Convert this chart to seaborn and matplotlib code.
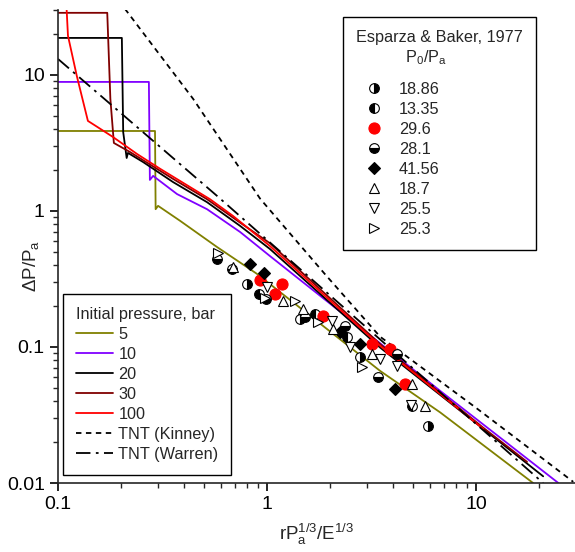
import matplotlib
matplotlib.use("Agg")
import matplotlib.pyplot as plt
import seaborn as sns
import pandas as pd
from matplotlib.ticker import LogLocator, FuncFormatter, NullFormatter

# ---------------- data ----------------
# calculated curves, initial pressure in bar
p5_x = [0.1, 0.291, 0.293, 0.301, 0.384, 0.576, 0.896, 3.47, 6.73, 18.7]
p5_y = [3.87, 3.87, 1.03, 1.09, 0.845, 0.543, 0.344, 0.0667, 0.033, 0.01]

p10_x = [0.1, 0.272, 0.275, 0.285, 0.371, 0.516, 0.743, 1.03, 6.73, 24.7]
p10_y = [8.88, 8.88, 1.69, 1.81, 1.33, 1.03, 0.70, 0.467, 0.0475, 0.01]

p20_x = [0.1, 0.202, 0.205, 0.213, 0.216, 0.255, 0.355, 0.516, 0.743, 1.03, 3.47, 10.8, 20.9]
p20_y = [18.7, 18.7, 3.8, 2.45, 2.67, 2.29, 1.63, 1.16, 0.776, 0.526, 0.099, 0.025, 0.0112]

p30_x = [0.1, 0.172, 0.178, 0.185, 0.221, 0.355, 0.516, 0.743, 1.03, 3.47, 10.8, 17.5]
p30_y = [28.6, 28.6, 6.66, 3.16, 2.71, 1.72, 1.22, 0.82, 0.58, 0.105, 0.0255, 0.0143]

p100_x = [0.107, 0.110, 0.1116, 0.123, 0.132, 0.139, 0.154, 0.183, 0.239, 0.308, 0.533, 0.687, 1.03, 3.47, 6.73, 10.8]
p100_y = [99.0, 30.0, 19.4, 9.83, 6.33, 4.59, 4.15, 3.50, 2.62, 2.04, 1.22, 0.919, 0.553, 0.102, 0.045, 0.025]

kinney_x = [0.209, 0.443, 0.926, 1.9, 3.47, 10.0, 29.1]
kinney_y = [30.6, 6.66, 1.23, 0.34, 0.119, 0.0356, 0.0102]

warren_x = [0.1, 0.576, 20.9]
warren_y = [13.1, 1.29, 0.01]

# Esparza & Baker (1977) experimental points, by P0/Pa
e1886_x = [0.802, 1.44, 2.79, 5.89]
e1886_y = [0.290, 0.161, 0.0844, 0.0262]
e1335_x = [0.915, 1.70, 2.41, 4.94]
e1335_y = [0.245, 0.175, 0.119, 0.0368]
e296_x = [0.926, 1.18, 1.09, 1.85, 3.18, 3.88, 4.57]
e296_y = [0.311, 0.290, 0.245, 0.169, 0.105, 0.0967, 0.0535]
e281_x = [0.576, 0.680, 0.989, 1.52, 2.36, 3.40, 4.19]
e281_y = [0.444, 0.375, 0.225, 0.166, 0.143, 0.0602, 0.0889]
e4156_x = [0.829, 0.967, 2.23, 2.79, 4.10]
e4156_y = [0.408, 0.350, 0.129, 0.105, 0.0491]
e187_x = [0.69, 1.19, 1.49, 2.07, 3.18, 4.94, 5.70]
e187_y = [0.39, 0.218, 0.190, 0.136, 0.0889, 0.0535, 0.0368]
e255_x = [1.0, 2.05, 2.50, 3.47, 4.19, 4.85]
e255_y = [0.276, 0.155, 0.100, 0.0816, 0.0725, 0.0375]
e253_x = [0.583, 0.98, 1.36, 1.75, 2.85]
e253_y = [0.491, 0.23, 0.218, 0.153, 0.0713]

line_labels = ["5", "10", "20", "30", "100", "TNT (Kinney)", "TNT (Warren)"]
point_labels = ["18.86", "13.35", "29.6", "28.1", "41.56", "18.7", "25.5", "25.3"]

# ---------------- style ----------------
sns.set_style("ticks")
plt.rcParams["font.family"] = ["Liberation Sans", "DejaVu Sans"]
plt.rcParams["mathtext.default"] = "regular"
plt.rcParams["axes.linewidth"] = 1.2

fig = plt.figure(figsize=(5.75, 5.52), dpi=100)
ax = fig.add_axes([58 / 575, 1 - 483 / 552, 518 / 575, 473 / 552])
ax.set_xscale("log")
ax.set_yscale("log")

lw = 1.3
curves = [
    (p5_x, p5_y, "#808000", "-"),
    (p10_x, p10_y, "#8000ff", "-"),
    (p20_x, p20_y, "#000000", "-"),
    (p30_x, p30_y, "#800000", "-"),
    (p100_x, p100_y, "#ff0000", "-"),
    (kinney_x, kinney_y, "#000000", (0, (3, 2.5))),
    (warren_x, warren_y, "#000000", (0, (8, 3, 1.5, 3))),
]
line_handles = []
for xs, ys, col, ls in curves:
    df = pd.DataFrame({"x": xs, "y": ys})
    sns.lineplot(data=df, x="x", y="y", estimator=None, sort=False, color=col,
                 linewidth=lw, linestyle=ls, ax=ax, legend=False)
    line_handles.append(ax.lines[-1])

ms = 7
point_series = [
    (e1886_x, e1886_y, dict(marker="o", markersize=ms, fillstyle="right", markerfacecolor="black",
                            markerfacecoloralt="white", markeredgecolor="black", color="black")),
    (e1335_x, e1335_y, dict(marker="o", markersize=ms, fillstyle="left", markerfacecolor="black",
                            markerfacecoloralt="white", markeredgecolor="black", color="black")),
    (e296_x, e296_y, dict(marker="o", markersize=8, markerfacecolor="red", markeredgecolor="red", color="red")),
    (e281_x, e281_y, dict(marker="o", markersize=ms, fillstyle="bottom", markerfacecolor="black",
                          markerfacecoloralt="white", markeredgecolor="black", color="black")),
    (e4156_x, e4156_y, dict(marker="D", markersize=6.5, markerfacecolor="black", markeredgecolor="black", color="black")),
    (e187_x, e187_y, dict(marker="^", markersize=7.5, markerfacecolor="white", markeredgecolor="black", color="black")),
    (e255_x, e255_y, dict(marker="v", markersize=7.5, markerfacecolor="white", markeredgecolor="black", color="black")),
    (e253_x, e253_y, dict(marker=">", markersize=7.5, markerfacecolor="white", markeredgecolor="black", color="black")),
]
point_handles = []
for xs, ys, kw in point_series:
    df = pd.DataFrame({"x": xs, "y": ys})
    sns.lineplot(data=df, x="x", y="y", estimator=None, sort=False, linestyle="none",
                 markeredgewidth=0.8, ax=ax, legend=False, zorder=3, **kw)
    point_handles.append(ax.lines[-1])

# ---------------- axes ----------------
ax.set_xlim(0.1, 30)
ax.set_ylim(0.01, 30)
sns.despine(ax=ax)
fmt = FuncFormatter(lambda v, _: f"{v:g}")
for axis in (ax.xaxis, ax.yaxis):
    axis.set_major_locator(LogLocator(base=10))
    axis.set_minor_locator(LogLocator(base=10, subs=range(2, 10)))
    axis.set_major_formatter(fmt)
    axis.set_minor_formatter(NullFormatter())
ax.tick_params(which="major", direction="out", length=6, width=1.2, labelsize=14, colors="black")
ax.tick_params(which="minor", direction="out", length=3.5, width=1.0)
ax.set_xlabel(r"rP$_a^{1/3}$/E$^{1/3}$", fontsize=13.5, labelpad=6)
ax.set_ylabel(r"$\Delta$P/P$_a$", fontsize=13.5)
ax.yaxis.set_label_coords(-0.032, 0.46)

fs = 11.7
leg1 = ax.legend(line_handles, line_labels, title="Initial pressure, bar",
                 loc="lower left", bbox_to_anchor=(63 / 575, 1 - 475 / 552),
                 bbox_transform=fig.transFigure, borderaxespad=0,
                 frameon=True, fancybox=False, edgecolor="black", framealpha=1,
                 borderpad=0.8, labelspacing=0.31, handlelength=2.3, handletextpad=0.3,
                 alignment="left", fontsize=fs, title_fontsize=fs)
leg1.get_frame().set_linewidth(1.0)
ax.add_artist(leg1)

leg2 = ax.legend(point_handles, point_labels,
                 title="Esparza & Baker, 1977\n           P$_0$/P$_a$",
                 loc="upper left", bbox_to_anchor=(343 / 575, 1 - 17 / 552),
                 bbox_transform=fig.transFigure, borderaxespad=0,
                 frameon=True, fancybox=False, edgecolor="black", framealpha=1,
                 borderpad=0.8, labelspacing=0.31, handlelength=2.25, handletextpad=0.4,
                 numpoints=1, alignment="left", fontsize=fs, title_fontsize=fs)
leg2.get_frame().set_linewidth(1.0)
leg2._legend_box.sep = 11

fig.savefig("out.png", dpi=100)
